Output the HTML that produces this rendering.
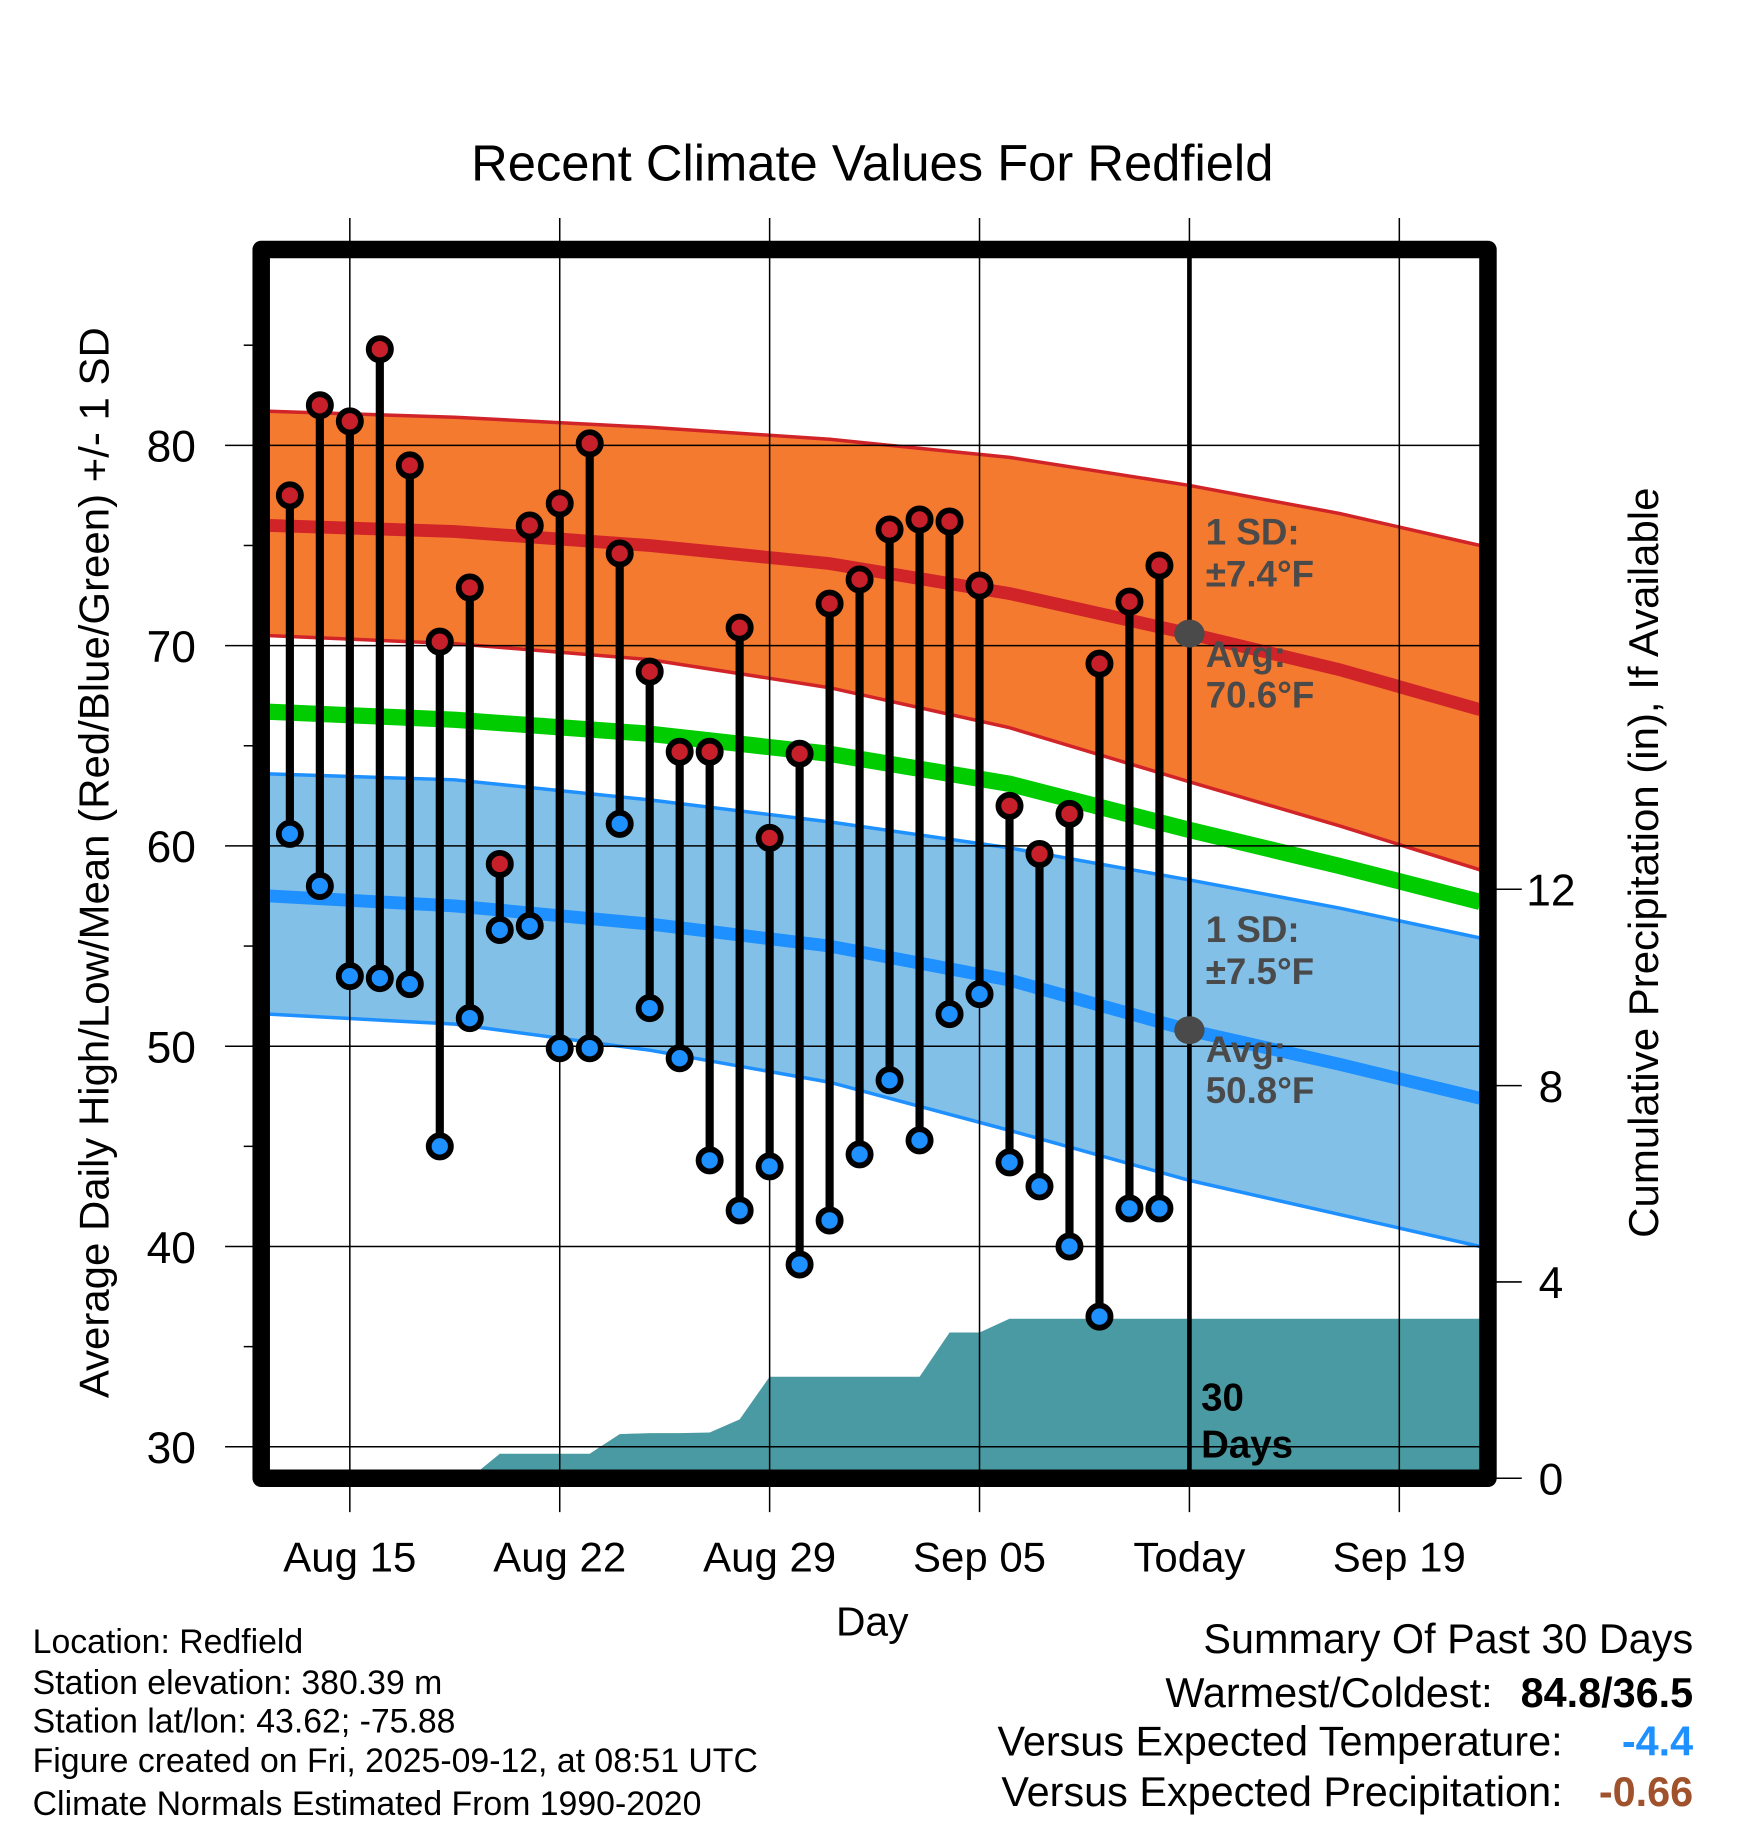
<!DOCTYPE html>
<html><head><meta charset="utf-8">
<style>
html,body{margin:0;padding:0;background:#fff;}
svg{display:block;font-family:"Liberation Sans",Arial,sans-serif;}
</style></head>
<body>
<svg id="chart" width="1748" height="1828" viewBox="0 0 1499 1568" preserveAspectRatio="none" xmlns="http://www.w3.org/2000/svg">
  <defs><clipPath id="plotclip"><rect x="231" y="221" width="1038" height="1040"/></clipPath></defs>
  <text x="748" y="155" font-size="43.5" text-anchor="middle">Recent Climate Values For Redfield</text>
  <g id="plot" clip-path="url(#plotclip)"></g>
  <g id="axes"></g>
</svg>
<script>
// ---- data ----
const dayLabels = ["Aug 15","Aug 22","Aug 29","Sep 05","Today","Sep 19"];
const dayLabelOffsets = [0,7,14,21,28,35];
const normDays = [-2.7, 3.5, 10, 16, 22, 28, 33, 37.7];
const redMean  = [76.0, 75.7, 75.0, 74.1, 72.6, 70.6, 68.8, 66.8];
const redUpper = [81.7, 81.4, 80.9, 80.3, 79.4, 78.0, 76.6, 75.0];
const redLower = [70.5, 70.1, 69.3, 67.9, 65.9, 63.2, 61.0, 58.8];
const greenMean= [66.7, 66.3, 65.6, 64.6, 63.1, 60.8, 59.0, 57.2];
const blueMean = [57.5, 57.0, 56.1, 55.0, 53.3, 50.8, 49.1, 47.4];
const blueUpper= [63.6, 63.3, 62.3, 61.2, 59.9, 58.3, 56.9, 55.4];
const blueLower= [51.6, 51.1, 49.8, 48.2, 45.8, 43.3, 41.6, 40.0];
// observation days: offset from Aug 15 (Aug 13 .. Sep 11)
const obsStart = -2;
const highs = [77.5,82.0,81.2,84.8,79.0,70.2,72.9,59.1,76.0,77.1,80.1,74.6,68.7,64.7,64.7,70.9,60.4,64.6,72.1,73.3,75.8,76.3,76.2,73.0,62.0,59.6,61.6,69.1,72.2,74.0];
const lows  = [60.6,58.0,53.5,53.4,53.1,45.0,51.4,55.8,56.0,49.9,49.9,61.1,51.9,49.4,44.3,41.8,44.0,39.1,41.3,44.6,48.3,45.3,51.6,52.6,44.2,43.0,40.0,36.5,41.9,41.9];
const precip= [0,0,0,0,0,0,0,0.5,0.5,0.5,0.5,0.9,0.92,0.92,0.93,1.2,2.07,2.07,2.07,2.07,2.07,2.07,2.97,2.97,3.25,3.25,3.25,3.25,3.25,3.25];
const yTicks = [30,40,50,60,70,80];
const yMinor = [35,45,55,65,75,85];
const pTicks = [0,4,8,12];

// ---- scales ----
const X = d => 300 + d*25.714;
const Y = v => 382 - (v-80)*17.18;
const P = p => 1268 - p*42.1;
const NS = "http://www.w3.org/2000/svg";
const plot = document.getElementById('plot');
const axes = document.getElementById('axes');
function mk(tag, attrs, parent){ const e=document.createElementNS(NS,tag); for(const k in attrs) e.setAttribute(k,attrs[k]); parent.appendChild(e); return e; }
function pts(days, vals){ return days.map((d,i)=>X(d).toFixed(1)+","+Y(vals[i]).toFixed(1)); }

let e;
e = mk('polygon',{points:pts(normDays,redUpper).concat(pts(normDays,redLower).reverse()).join(' '),fill:'#f47a30'},plot);


e = mk('polyline',{points:pts(normDays,redUpper).join(' '),fill:'none',stroke:'#d02428','stroke-width':3},plot);


e = mk('polyline',{points:pts(normDays,redLower).join(' '),fill:'none',stroke:'#d02428','stroke-width':3},plot);


e = mk('polygon',{points:pts(normDays,blueUpper).concat(pts(normDays,blueLower).reverse()).join(' '),fill:'#82c0e8'},plot);


e = mk('polyline',{points:pts(normDays,blueUpper).join(' '),fill:'none',stroke:'#1e90ff','stroke-width':3},plot);


e = mk('polyline',{points:pts(normDays,blueLower).join(' '),fill:'none',stroke:'#1e90ff','stroke-width':3},plot);



// precipitation area
{
  const pp = precip.map((p,i)=>X(obsStart+i).toFixed(1)+","+P(p).toFixed(1));
  pp.push(X(38)+","+P(precip[precip.length-1]));
  const poly = [X(obsStart)+","+1300].concat(pp).concat([X(38)+",1300"]);
  e = mk('polygon',{points:poly.join(' '),fill:'#4a9aa3'},plot);
  
  
}

// gridlines
yTicks.forEach(v=>{
  e = mk('line',{x1:193,x2:1269,y1:Y(v),y2:Y(v),stroke:'#000','stroke-width':1.3},axes);
  
  
});
dayLabelOffsets.forEach((d,i)=>{
  e = mk('line',{x1:X(d),x2:X(d),y1:187,y2:1297,stroke:'#000','stroke-width':1.3},axes);
  
  
});

// mean lines
e = mk('polyline',{points:pts(normDays,redMean).join(' '),fill:'none',stroke:'#d02428','stroke-width':11},plot);


e = mk('polyline',{points:pts(normDays,greenMean).join(' '),fill:'none',stroke:'#00cc00','stroke-width':14},plot);


e = mk('polyline',{points:pts(normDays,blueMean).join(' '),fill:'none',stroke:'#1e90ff','stroke-width':11},plot);



const g2 = mk('g',{},document.getElementById('chart'));
e = mk('line',{x1:X(28),x2:X(28),y1:221,y2:1261,stroke:'#000','stroke-width':4},g2);



// stems
highs.forEach((h,i)=>{
  const x = X(obsStart+i);
  e = mk('line',{x1:x,x2:x,y1:Y(h),y2:Y(lows[i]),stroke:'#000','stroke-width':7},g2);
  
  
});
highs.forEach((h,i)=>{
  const x = X(obsStart+i);
  e = mk('circle',{cx:x,cy:Y(h),r:9.5,fill:'#c8202a',stroke:'#000','stroke-width':5},g2);
  
  
  e = mk('circle',{cx:x,cy:Y(lows[i]),r:9.5,fill:'#1e90ff',stroke:'#000','stroke-width':5},g2);
  
  
});

// today markers
e = mk('ellipse',{cx:X(28),cy:Y(70.6),rx:13,ry:12,fill:'#4a4a4a'},g2);


e = mk('ellipse',{cx:X(28),cy:Y(50.8),rx:13,ry:12,fill:'#4a4a4a'},g2);



function txt(s,x,y,attrs,name,parent){ const t=mk('text',Object.assign({x:x,y:y},attrs),parent||g2); t.textContent=s;   return t; }
const ann = {'font-size':31.5,'font-weight':'bold',fill:'#4a4a4a'};
txt("1 SD:",1034,467,ann,'high-sd-label');
txt("±7.4°F",1034,503,ann,'high-sd-value');
txt("Avg:",1034,572,ann,'high-avg-label');
txt("70.6°F",1034,607,ann,'high-avg-value');
txt("1 SD:",1034,808,ann,'low-sd-label');
txt("±7.5°F",1034,844,ann,'low-sd-value');
txt("Avg:",1034,911,ann,'low-avg-label');
txt("50.8°F",1034,946,ann,'low-avg-value');
txt("30",1030,1210,{'font-size':33,'font-weight':'bold'},'days-count-label');
txt("Days",1030,1250,{'font-size':33,'font-weight':'bold'},'days-unit-label');

// frame
e = mk('rect',{x:224,y:214,width:1052,height:1054,fill:'none',stroke:'#000','stroke-width':15,'stroke-linejoin':'round'},g2);



yMinor.forEach(v=>{
  e = mk('line',{x1:209,x2:217,y1:Y(v),y2:Y(v),stroke:'#000','stroke-width':1.3},g2);
  
  
});
yTicks.forEach(v=>{
  txt(String(v),168,Y(v)+14,{'font-size':38,'text-anchor':'end'},'y-tick-label');
});
pTicks.forEach(p=>{
  e = mk('line',{x1:1283,x2:1305,y1:P(p),y2:P(p),stroke:'#000','stroke-width':1.3},g2);
  
  
  txt(String(p),1330,P(p)+14,{'font-size':38,'text-anchor':'middle'},'precip-tick-label');
});
dayLabels.forEach((s,i)=>{
  txt(s,X(dayLabelOffsets[i]),1348,{'font-size':36,'text-anchor':'middle'},'x-tick-label');
});
txt("Day",748,1403,{'font-size':35,'text-anchor':'middle'},'x-axis-title');
txt("Average Daily High/Low/Mean (Red/Blue/Green) +/- 1 SD",0,0,{'font-size':36,'text-anchor':'middle',transform:'translate(93,740) rotate(-90)'},'y-axis-title');
txt("Cumulative Precipitation (in), If Available",0,0,{'font-size':36,'text-anchor':'middle',transform:'translate(1422,740) rotate(-90)'},'precip-axis-title');

const fl = ["Location: Redfield","Station elevation: 380.39 m","Station lat/lon: 43.62; -75.88","Figure created on Fri, 2025-09-12, at 08:51 UTC","Climate Normals Estimated From 1990-2020"];
const flY = [1418,1453,1486,1520,1557];
fl.forEach((s,i)=>txt(s,28,flY[i],{'font-size':29},'footer-info-line'));
txt("Summary Of Past 30 Days",1452,1418,{'font-size':35.5,'text-anchor':'end'},'summary-title');
txt("Warmest/Coldest:",1280,1464,{'font-size':35.5,'text-anchor':'end'},'warmest-coldest-label');
txt("84.8/36.5",1452,1464,{'font-size':35.5,'text-anchor':'end','font-weight':'bold'},'warmest-coldest-value');
txt("Versus Expected Temperature:",1340,1506,{'font-size':35.5,'text-anchor':'end'},'temp-anomaly-label');
txt("-4.4",1452,1506,{'font-size':35.5,'text-anchor':'end','font-weight':'bold',fill:'#1e90ff'},'temp-anomaly-value');
txt("Versus Expected Precipitation:",1340,1549,{'font-size':35.5,'text-anchor':'end'},'precip-anomaly-label');
txt("-0.66",1452,1549,{'font-size':35.5,'text-anchor':'end','font-weight':'bold',fill:'#a0522d'},'precip-anomaly-value');
</script>
</body></html>
